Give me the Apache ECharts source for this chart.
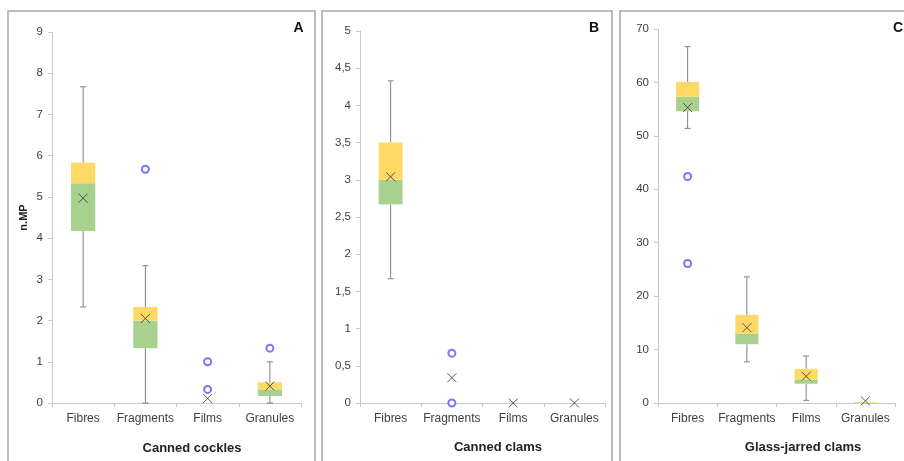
<!DOCTYPE html>
<html>
<head>
<meta charset="utf-8">
<script src="https://cdn.jsdelivr.net/npm/echarts@6/dist/echarts.min.js"></script>
<style>
html,body{margin:0;padding:0;background:#fff;}
#chart{width:904px;height:461px;}
</style>
</head>
<body>
<div id="chart"></div>
<script>
// ---- Data ----
const categories = ['Fibres', 'Fragments', 'Films', 'Granules'];

// [min, Q1, median, Q3, max] per category
const cocklesStats = [
  [2.33, 4.17, 5.33, 5.83, 7.67],
  [0, 1.33, 2.0, 2.33, 3.33],
  [0, 0, 0, 0, 0],
  [0, 0.17, 0.33, 0.5, 1.0]
];
const cocklesMeans = [4.97, 2.05, 0.11, 0.41];
const cocklesOutliers = [[1, 5.67], [2, 1.0], [2, 0.33], [3, 1.33]];

const clamsStats = [
  [1.67, 2.67, 3.0, 3.5, 4.33],
  [0, 0, 0, 0, 0],
  [0, 0, 0, 0, 0],
  [0, 0, 0, 0, 0]
];
const clamsMeans = [3.04, 0.34, 0, 0];
const clamsOutliers = [[1, 0.67], [1, 0]];

const jarStats = [
  [51.4, 54.6, 57.3, 60.1, 66.7],
  [7.7, 11.0, 13.0, 16.5, 23.6],
  [0.5, 3.6, 4.4, 6.4, 8.8],
  [0, 0, 0, 0.15, 0.15]
];
const jarMeans = [55.3, 14.1, 5.0, 0.4];
const jarOutliers = [[0, 42.4], [0, 26.1]];

const panelTitles = ['Canned cockles', 'Canned clams', 'Glass-jarred clams'];
const panelLetters = ['A', 'B', 'C'];
const yMax = [9, 5, 70];
const yInterval = [1, 0.5, 10];

// ---- Styles ----
const FONT = 'Liberation Sans';
const GREEN = '#A9D18E';
const YELLOW = '#FFD966';
const WHISKER = '#808080';
const AXIS = '#C8C8C8';
const TEXT = '#404040';

const panels = [
  {stats: cocklesStats, means: cocklesMeans, outliers: cocklesOutliers},
  {stats: clamsStats, means: clamsMeans, outliers: clamsOutliers},
  {stats: jarStats, means: jarMeans, outliers: jarOutliers}
];

const grids = [
  {left: 52, top: 32, width: 249, height: 371},
  {left: 360, top: 31, width: 245, height: 372},
  {left: 658, top: 29, width: 237, height: 374}
];

function renderBox(params, api) {
  const x = api.value(0);
  const mn = api.value(1), q1 = api.value(2), md = api.value(3), q3 = api.value(4), mx = api.value(5);
  const band = api.size([1, 0])[0];
  const bw = band * 0.39;
  const cx = api.coord([x, 0])[0];
  const y = v => api.coord([x, v])[1];
  const children = [];
  const capW = 3;
  const lineStyle = {stroke: WHISKER, lineWidth: 1};
  if (q1 > mn) {
    children.push({type: 'line', shape: {x1: cx, y1: y(mn), x2: cx, y2: y(q1)}, style: lineStyle});
    children.push({type: 'line', shape: {x1: cx - capW, y1: y(mn), x2: cx + capW, y2: y(mn)}, style: lineStyle});
  }
  if (mx > q3) {
    children.push({type: 'line', shape: {x1: cx, y1: y(q3), x2: cx, y2: y(mx)}, style: lineStyle});
    children.push({type: 'line', shape: {x1: cx - capW, y1: y(mx), x2: cx + capW, y2: y(mx)}, style: lineStyle});
  }
  if (md > q1) {
    children.push({type: 'rect', shape: {x: cx - bw / 2, y: y(md), width: bw, height: y(q1) - y(md)}, style: {fill: GREEN}});
  }
  if (q3 > md) {
    children.push({type: 'rect', shape: {x: cx - bw / 2, y: y(q3), width: bw, height: Math.max(1, y(md) - y(q3))}, style: {fill: YELLOW}});
  }
  return {type: 'group', children: children};
}

const xAxes = [], yAxes = [], series = [];
panels.forEach((p, i) => {
  xAxes.push({
    type: 'category', gridIndex: i, data: categories, boundaryGap: true,
    axisLine: {lineStyle: {color: AXIS}},
    axisTick: {show: true, length: 4, interval: 0, lineStyle: {color: AXIS}},
    axisLabel: {color: TEXT, fontFamily: FONT, fontSize: 12, margin: 10, interval: 0}
  });
  yAxes.push({
    type: 'value', gridIndex: i, min: 0, max: yMax[i], interval: yInterval[i],
    axisLine: {show: true, lineStyle: {color: AXIS}},
    axisTick: {show: true, length: 4, lineStyle: {color: AXIS}},
    splitLine: {show: false},
    axisLabel: {color: TEXT, fontFamily: FONT, fontSize: 11.5, margin: 9,
      formatter: v => String(v).replace('.', ',')},
    name: i === 0 ? 'n.MP' : '', nameLocation: 'middle', nameGap: 23,
    nameTextStyle: {color: '#222', fontFamily: FONT, fontSize: 11, fontWeight: 'bold'}
  });
  series.push({
    type: 'custom', xAxisIndex: i, yAxisIndex: i,
    data: p.stats.map((s, k) => [k].concat(s)),
    encode: {x: 0, y: [1, 2, 3, 4, 5]},
    renderItem: renderBox, silent: true, z: 2
  });
  series.push({
    type: 'scatter', xAxisIndex: i, yAxisIndex: i,
    data: p.means.map((m, k) => [k, m]),
    symbol: 'path://M0,0L10,10M10,0L0,10', symbolSize: 9,
    itemStyle: {color: 'none', borderColor: '#333', borderWidth: 1},
    silent: true, z: 4
  });
  series.push({
    type: 'scatter', xAxisIndex: i, yAxisIndex: i,
    data: p.outliers,
    symbol: 'emptyCircle', symbolSize: 7,
    itemStyle: {color: '#5555F5', borderColor: '#5555F5', borderWidth: 1.2},
    silent: true, z: 5
  });
});

const frames = [
  {x: 8, y: 11, w: 307},
  {x: 322, y: 11, w: 290},
  {x: 620, y: 11, w: 300}
];
const graphics = frames.map(f => ({
  type: 'rect', shape: {x: f.x, y: f.y, width: f.w, height: 480},
  style: {fill: 'none', stroke: '#A6A6A6', lineWidth: 1.5}, silent: true, z: 0
}));
const letterPos = [[298.5, 28, 'center'], [594, 28, 'center'], [893, 28, 'left']];
panelLetters.forEach((L, i) => {
  graphics.push({
    type: 'text', x: letterPos[i][0], y: letterPos[i][1],
    style: {text: L, fill: '#111', font: 'bold 14px ' + FONT, align: letterPos[i][2], verticalAlign: 'middle'},
    silent: true, z: 10
  });
});
const titlePos = [[192, 448], [498, 447], [803, 447]];
panelTitles.forEach((t, i) => {
  graphics.push({
    type: 'text', x: titlePos[i][0], y: titlePos[i][1],
    style: {text: t, fill: '#222', font: 'bold 13px ' + FONT, align: 'center', verticalAlign: 'middle'},
    silent: true, z: 10
  });
});

const chart = echarts.init(document.getElementById('chart'), null, {renderer: 'canvas'});
chart.setOption({
  backgroundColor: '#fff',
  animation: false,
  grid: grids,
  xAxis: xAxes,
  yAxis: yAxes,
  series: series,
  graphic: graphics
});
</script>
</body>
</html>
